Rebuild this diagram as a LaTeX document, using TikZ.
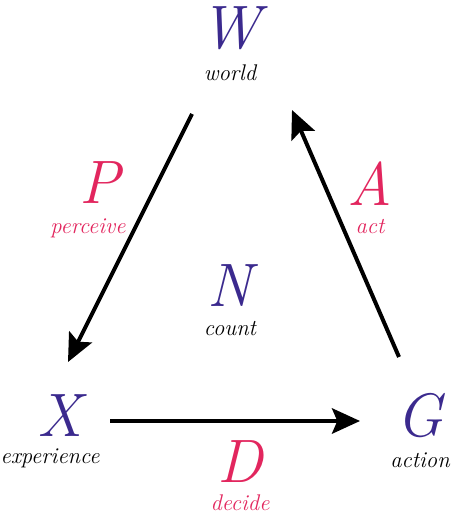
\documentclass[tikz,border=0pt]{standalone}
\usetikzlibrary{arrows.meta}
\definecolor{vblue}{HTML}{3B2A8E}
\definecolor{vpink}{HTML}{E2265E}
\tikzset{
  big/.style={font=\fontsize{46}{46}\selectfont\itshape, inner sep=0pt},
  small/.style={font=\fontsize{17}{17}\selectfont\itshape, inner sep=0pt},
  conn/.style={line width=3pt, -{Stealth[length=21pt,width=19pt,inset=4pt]}},
}
\begin{document}
\begin{tikzpicture}[x=0.75pt,y=-0.75pt]
\useasboundingbox (0,0) rectangle (454,516);
\node[big,text=vblue] (W) at (230,28) {W};
\node[small] (w) at (230,73) {world};
\node[big,text=vpink] (P) at (100,183) {P};
\node[small,text=vpink] (p) at (88,228) {perceive};
\node[big,text=vpink] (A) at (370,184) {A};
\node[small,text=vpink] (a) at (370,227) {act};
\node[big,text=vblue] (N) at (230,286) {N};
\node[small] (n) at (230,329) {count};
\node[big,text=vblue] (X) at (60,416) {X};
\node[small] (x) at (50,458) {experience};
\node[big,text=vblue] (G) at (420,416) {G};
\node[small] (g) at (420,460) {action};
\node[big,text=vpink] (D) at (240,462) {D};
\node[small,text=vpink] (d) at (240,503) {decide};
\coordinate (ws) at (192,114);
\coordinate (xe) at (68,362);
\coordinate (xs) at (110,421);
\coordinate (ge) at (360,421);
\coordinate (gs) at (399,357);
\coordinate (we) at (292,110);
\draw[conn] (ws) -- (xe);
\draw[conn] (xs) -- (ge);
\draw[conn] (gs) -- (we);
\end{tikzpicture}
\end{document}
